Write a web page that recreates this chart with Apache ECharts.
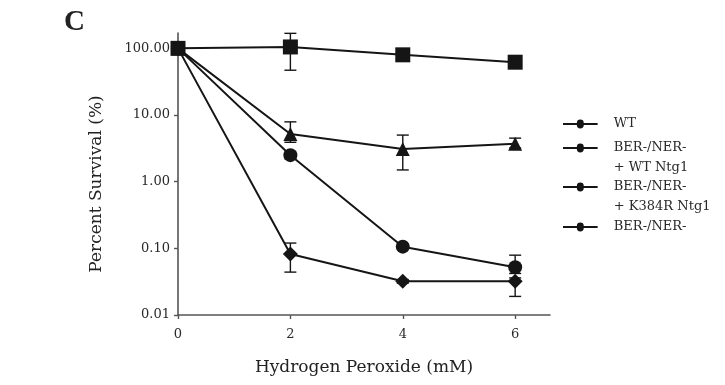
<!DOCTYPE html>
<html>
<head>
<meta charset="utf-8">
<script src="https://cdn.jsdelivr.net/npm/echarts@6/dist/echarts.min.js"></script>
<style>
  html, body { margin: 0; padding: 0; background: #ffffff; }
  #chart { width: 725px; height: 385px; }
</style>
</head>
<body>
<div id="chart"></div>
<script>
// Hydrogen peroxide doses (mM)
const doses = [0, 2, 4, 6];
const xTicks = [0, 2, 4, 6];
const yTicks = [0.01, 0.1, 1, 10, 100];

// Series names
const seriesNames = [
  'WT',
  'BER-/NER-\n+ WT Ntg1',
  'BER-/NER-\n+ K384R Ntg1',
  'BER-/NER-'
];

// Percent survival per strain
const survivalWT = [100, 105, 80, 62];
const survivalWTNtg1 = [100, 5.2, 3.1, 3.7];
const survivalK384R = [100, 2.5, 0.106, 0.052];
const survivalBerNer = [100, 0.082, 0.032, 0.032];

// Error bar bounds (low, high) per dose; null where no bar is shown
const errLowWT = [null, 47, 72, 57];
const errHighWT = [null, 168, 88, 67];
const errLowWTNtg1 = [null, 3.9, 1.5, 3.2];
const errHighWTNtg1 = [null, 7.9, 5.0, 4.5];
const errLowK384R = [null, 2.2, 0.096, 0.042];
const errHighK384R = [null, 2.8, 0.116, 0.079];
const errLowBerNer = [null, 0.044, 0.030, 0.019];
const errHighBerNer = [null, 0.12, 0.034, 0.036];

const symbols = ['rect', 'triangle', 'circle', 'diamond'];
const symbolSizes = [15, 14, 14, 15];
const values = [survivalWT, survivalWTNtg1, survivalK384R, survivalBerNer];
const errLows = [errLowWT, errLowWTNtg1, errLowK384R, errLowBerNer];
const errHighs = [errHighWT, errHighWTNtg1, errHighK384R, errHighBerNer];

const INK = '#151515';
const AXIS = '#555555';
const FONT = '"DejaVu Serif", "Liberation Serif", serif';

// line with a dot in the middle, used as legend key
const legendIcon = 'path://M0,3.8 H16 A4,4 0 0,1 24,3.8 H40 V6.2 H24 A4,4 0 0,1 16,6.2 H0 Z';

const series = [];
seriesNames.forEach(function (name, i) {
  const errData = [];
  doses.forEach(function (d, j) {
    if (errLows[i][j] != null) errData.push([d, errLows[i][j], errHighs[i][j]]);
  });
  series.push({
    name: name + ' error',
    type: 'custom',
    z: 2,
    silent: true,
    renderItem: function (params, api) {
      const x = api.value(0);
      const lo = api.coord([x, api.value(1)]);
      const hi = api.coord([x, api.value(2)]);
      const cap = 6;
      const style = { stroke: INK, lineWidth: 1.4 };
      return {
        type: 'group',
        children: [
          { type: 'line', shape: { x1: lo[0], y1: lo[1], x2: hi[0], y2: hi[1] }, style: style },
          { type: 'line', shape: { x1: lo[0] - cap, y1: lo[1], x2: lo[0] + cap, y2: lo[1] }, style: style },
          { type: 'line', shape: { x1: hi[0] - cap, y1: hi[1], x2: hi[0] + cap, y2: hi[1] }, style: style }
        ]
      };
    },
    data: errData
  });
  series.push({
    name: name,
    type: 'line',
    z: 3,
    symbol: symbols[i],
    symbolSize: symbolSizes[i],
    showAllSymbol: true,
    lineStyle: { color: INK, width: 2 },
    itemStyle: { color: INK },
    data: doses.map(function (d, j) { return [d, values[i][j]]; })
  });
});

// one legend block per strain; a blank leading line keeps the key beside the first text line
const legendTops = [109, 113, 152, 212];
const legends = seriesNames.map(function (name, i) {
  return {
    left: 558,
    top: legendTops[i],
    orient: 'vertical',
    selectedMode: false,
    itemWidth: 37,
    itemHeight: 9,
    itemGap: 0,
    icon: legendIcon,
    itemStyle: { color: INK },
    data: [name],
    formatter: function (n) { return n.indexOf('\n') >= 0 ? ' \n' + n : n; },
    textStyle: {
      fontFamily: FONT,
      fontSize: 13,
      color: '#2a2a2a',
      lineHeight: 20,
      padding: [0, 0, 0, 10]
    }
  };
});

const chart = echarts.init(document.getElementById('chart'));
chart.setOption({
  backgroundColor: '#ffffff',
  animation: false,
  title: {
    text: 'C',
    left: 59,
    top: 3,
    textStyle: { fontFamily: '"Liberation Serif", serif', fontSize: 29, fontWeight: 'bold', color: '#222' }
  },
  legend: legends,
  grid: { left: 178, right: 175, top: 33, bottom: 70, containLabel: false },
  xAxis: {
    type: 'value',
    min: 0,
    max: 6.62,
    name: 'Hydrogen Peroxide (mM)',
    nameLocation: 'middle',
    nameGap: 44,
    nameTextStyle: { fontFamily: FONT, fontSize: 17, color: '#222' },
    axisLine: { show: true, lineStyle: { color: AXIS, width: 1.6 } },
    axisTick: { show: true, customValues: xTicks, length: 4, lineStyle: { color: AXIS, width: 1.4 } },
    axisLabel: {
      customValues: xTicks,
      margin: 13,
      fontFamily: FONT, fontSize: 13, color: '#2a2a2a'
    },
    splitLine: { show: false }
  },
  yAxis: {
    type: 'log',
    logBase: 10,
    min: 0.01,
    max: 170,
    name: 'Percent Survival (%)',
    nameLocation: 'middle',
    nameGap: 73,
    nameTextStyle: { fontFamily: FONT, fontSize: 17, color: '#222', padding: [0, 20, 0, 0] },
    axisLine: { show: true, lineStyle: { color: AXIS, width: 1.6 } },
    axisTick: { show: true, customValues: yTicks, length: 4, lineStyle: { color: AXIS, width: 1.4 } },
    axisLabel: {
      customValues: yTicks,
      margin: 8,
      fontFamily: FONT, fontSize: 13, color: '#2a2a2a',
      formatter: function (v) { return Number(v).toFixed(2); }
    },
    splitLine: { show: false }
  },
  series: series
});
</script>
</body>
</html>
